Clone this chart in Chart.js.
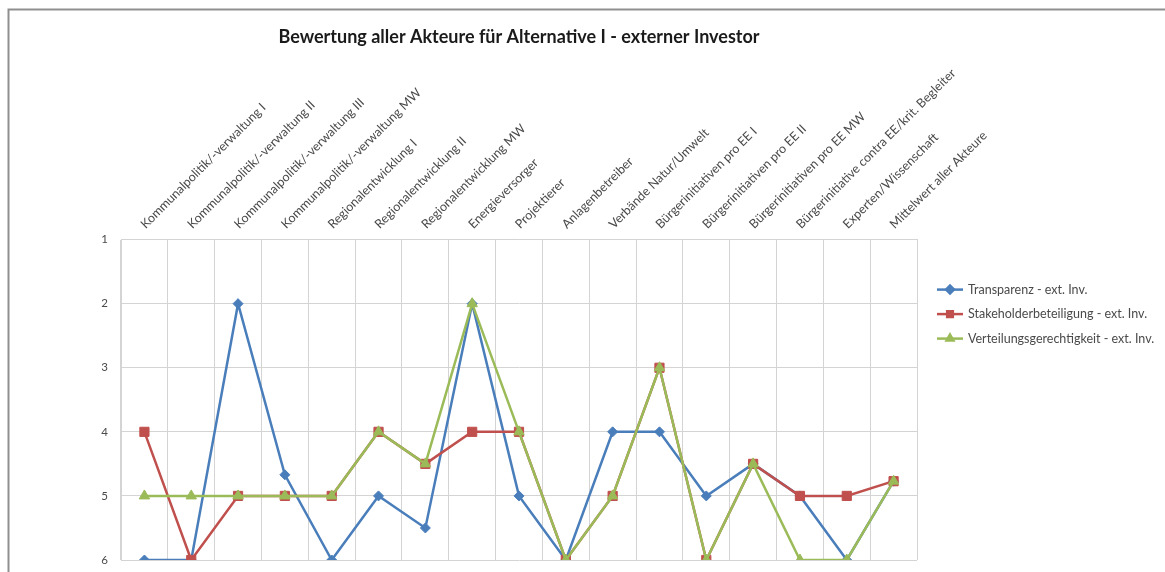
<!DOCTYPE html>
<html lang="de">
<head>
<meta charset="utf-8">
<title>Bewertung aller Akteure</title>
<script src="https://cdn.jsdelivr.net/npm/chart.js@4/dist/chart.umd.min.js"></script>
<style>
  html, body { margin: 0; padding: 0; background: #fff; overflow: hidden; }
  #wrap { position: relative; width: 1165px; height: 572px; }
</style>
</head>
<body>
<div id="wrap"><canvas id="chart"></canvas></div>
<script>
// Akteure (Kategorien der x-Achse)
const akteure = [
    'Kommunalpolitik/-verwaltung I',
    'Kommunalpolitik/-verwaltung II',
    'Kommunalpolitik/-verwaltung III',
    'Kommunalpolitik/-verwaltung MW',
    'Regionalentwicklung I',
    'Regionalentwicklung II',
    'Regionalentwicklung MW',
    'Energieversorger',
    'Projektierer',
    'Anlagenbetreiber',
    'Verbände Natur/Umwelt',
    'Bürgerinitiativen pro EE I',
    'Bürgerinitiativen pro EE II',
    'Bürgerinitiativen pro EE MW',
    'Bürgerinitiative contra EE/krit. Begleiter',
    'Experten/Wissenschaft',
    'Mittelwert aller Akteure'
];

// Bewertungen je Kriterium (1 = beste, 6 = schlechteste)
const transparenz = [6, 6, 2, 4.67, 6, 5, 5.5, 2, 5, 6, 4, 4, 5, 4.5, 5, 6, 4.77];
const stakeholder = [4, 6, 5, 5, 5, 4, 4.5, 4, 4, 6, 5, 3, 6, 4.5, 5, 5, 4.77];
const verteilung  = [5, 5, 5, 5, 5, 4, 4.5, 2, 4, 6, 5, 3, 6, 4.5, 6, 6, 4.77];

const yTicks = [1, 2, 3, 4, 5, 6];

const FONT = 'Lato, "Open Sans", sans-serif';
const GRID = '#d4d4d4';
const TEXT = '#4a4a4a';

// Rahmen um das Diagramm (nur oben und links sichtbar)
const chartFrame = {
    id: 'chartFrame',
    beforeDraw(chart) {
        const ctx = chart.ctx;
        ctx.save();
        ctx.strokeStyle = '#8f8f8f';
        ctx.lineWidth = 2;
        ctx.beginPath();
        ctx.moveTo(8.5, chart.height + 5);
        ctx.lineTo(8.5, 9.5);
        ctx.lineTo(chart.width + 5, 9.5);
        ctx.stroke();
        ctx.restore();
    }
};

// Legende rechts neben der Zeichenfläche: Linie mit Marker, dann Text
const sideLegend = {
    id: 'sideLegend',
    afterDraw(chart) {
        const { ctx, chartArea } = chart;
        const x0 = chartArea.right + 20;
        chart.data.datasets.forEach((ds, i) => {
            const y = chartArea.top + 50 + i * 24.5;
            ctx.save();
            ctx.strokeStyle = ds.borderColor;
            ctx.lineWidth = 2.5;
            ctx.beginPath();
            ctx.moveTo(x0, y);
            ctx.lineTo(x0 + 26, y);
            ctx.stroke();
            ctx.fillStyle = ds.pointBackgroundColor;
            ctx.strokeStyle = ds.pointBorderColor;
            Chart.helpers.drawPoint(ctx, {
                pointStyle: ds.pointStyle, radius: 4, borderWidth: 1, rotation: 0
            }, x0 + 13, y);
            ctx.fillStyle = TEXT;
            ctx.font = '12.5px ' + FONT;
            ctx.textBaseline = 'middle';
            ctx.fillText(ds.label, x0 + 31, y);
            ctx.restore();
        });
    }
};

function series(label, data, color, style, radius, order) {
    return {
        label: label,
        data: data,
        borderColor: color,
        backgroundColor: color,
        pointBackgroundColor: color,
        pointBorderColor: color,
        pointStyle: style,
        pointRadius: radius,
        pointBorderWidth: 1,
        borderWidth: 2.5,
        tension: 0,
        order: order
    };
}

const ctx = document.getElementById('chart').getContext('2d');
new Chart(ctx, {
    type: 'line',
    data: {
        labels: akteure,
        datasets: [
            series('Transparenz - ext. Inv.', transparenz, '#4a7ebb', 'rectRot', 5, 3),
            series('Stakeholderbeteiligung - ext. Inv.', stakeholder, '#c0504d', 'rect', 6.5, 2),
            series('Verteilungsgerechtigkeit - ext. Inv.', verteilung, '#9bbb59', 'triangle', 6, 1)
        ]
    },
    options: {
        responsive: true,
        maintainAspectRatio: false,
        animation: false,
        layout: {
            padding: { left: 0, right: 248, top: 0, bottom: 12 }
        },
        plugins: {
            legend: { display: false },
            tooltip: { enabled: false },
            title: {
                display: true,
                fullSize: false,
                text: 'Bewertung aller Akteure für Alternative I - externer Investor',
                color: '#1a1a1a',
                font: { family: FONT, size: 18, weight: 'bold' },
                padding: { top: 26, bottom: 11 }
            }
        },
        scales: {
            x: {
                position: 'top',
                offset: true,
                grid: { color: GRID, offset: true, drawTicks: false },
                border: { color: GRID },
                ticks: {
                    autoSkip: false,
                    minRotation: 45,
                    maxRotation: 45,
                    padding: 8,
                    labelOffset: 9,
                    color: TEXT,
                    font: { family: FONT, size: 12.5 }
                },
                afterFit(scale) { scale.height = 181; }
            },
            y: {
                reverse: true,
                min: 1,
                max: 6,
                afterBuildTicks(scale) { scale.ticks = yTicks.map(v => ({ value: v })); },
                // unsichtbare Tick-Striche schaffen den Abstand zwischen Zahl und Achse
                grid: { color: GRID, drawTicks: true, tickLength: 12, tickColor: 'rgba(0,0,0,0)' },
                border: { color: GRID },
                ticks: {
                    padding: 1,
                    color: TEXT,
                    font: { family: FONT, size: 11.5 }
                },
                afterFit(scale) { scale.width = 121; }
            }
        }
    },
    plugins: [chartFrame, sideLegend]
});
</script>
</body>
</html>
